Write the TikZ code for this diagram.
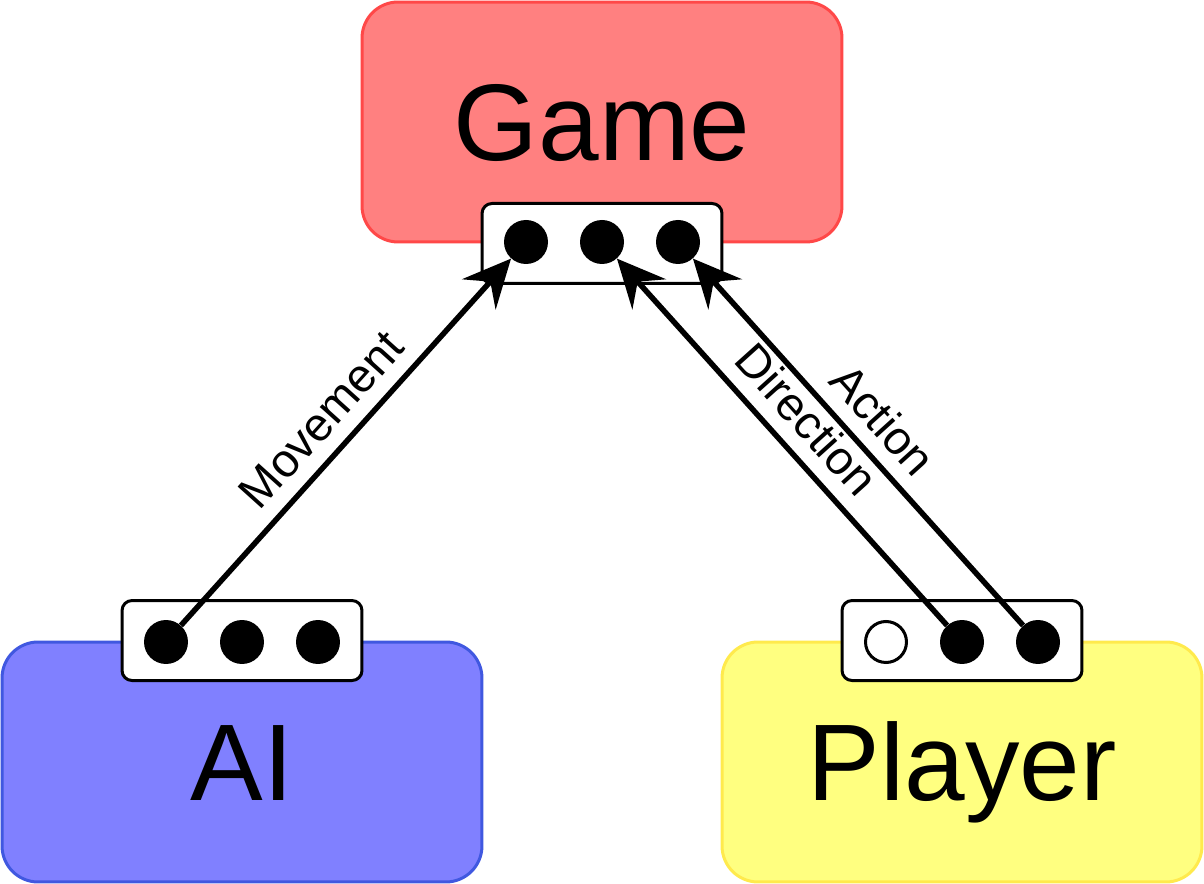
\documentclass[tikz,border=0pt]{standalone}
\usepackage{fontspec}
\setmainfont{Liberation Sans}
\usetikzlibrary{arrows.meta}
\definecolor{gamefill}{HTML}{FF8080}
\definecolor{gameline}{HTML}{FF4848}
\definecolor{aifill}{HTML}{8080FF}
\definecolor{ailine}{HTML}{4058E0}
\definecolor{playerfill}{HTML}{FFFF80}
\definecolor{playerline}{HTML}{FFEA4D}
\begin{document}
\begin{tikzpicture}[
  x=0.02cm, y=-0.02cm,
  block/.style={draw, line width=0.06cm, rounded corners=0.72cm, minimum width=9.6cm, minimum height=4.8cm,
    inner sep=0pt, font=\fontsize{62}{70}\selectfont, text height=1.56cm, text depth=0pt},
  port/.style={draw, fill=white, line width=0.06cm, rounded corners=0.2cm, minimum width=4.8cm, minimum height=1.6cm},
  pin/.style={circle, fill=black, minimum size=0.88cm, inner sep=0pt},
  freepin/.style={circle, draw, fill=white, line width=0.06cm, minimum size=0.82cm, inner sep=0pt},
  link/.style={line width=0.11cm, -{Stealth[length=0.96cm, width=0.9cm, inset=0.34cm]}},
  tag/.style={font=\fontsize{26.7}{30}\selectfont, sloped, midway, above=0.28cm, inner sep=0pt}
]
\useasboundingbox (0,0) rectangle (1204,884);
% the three parts
\node[block, fill=gamefill, draw=gameline] (game) at (602,122) {Game};
\node[block, fill=aifill, draw=ailine] (ai) at (242,762) {AI};
\node[block, fill=playerfill, draw=playerline] (player) at (962,762) {Player};
% ports
\node[port] (gameport) at (game.south) {};
\node[port] (aiport) at (ai.north) {};
\node[port] (playerport) at (player.north) {};
\foreach \i/\dx in {1/-76,2/0,3/76} {
  \node[pin] (g\i) at (602+\dx,242) {};
  \node[pin] (a\i) at (242+\dx,642) {};
}
\node[freepin] (p1) at (886,642) {};
\foreach \i/\dx in {2/0,3/76} {
  \node[pin] (p\i) at (962+\dx,642) {};
}
% connections
\draw[link] (a1) -- (g1) node[tag] {Movement};
\draw[link] (p2) -- (g2) node[tag] {Direction};
\draw[link] (p3) -- (g3) node[tag] {Action};
\end{tikzpicture}
\end{document}
